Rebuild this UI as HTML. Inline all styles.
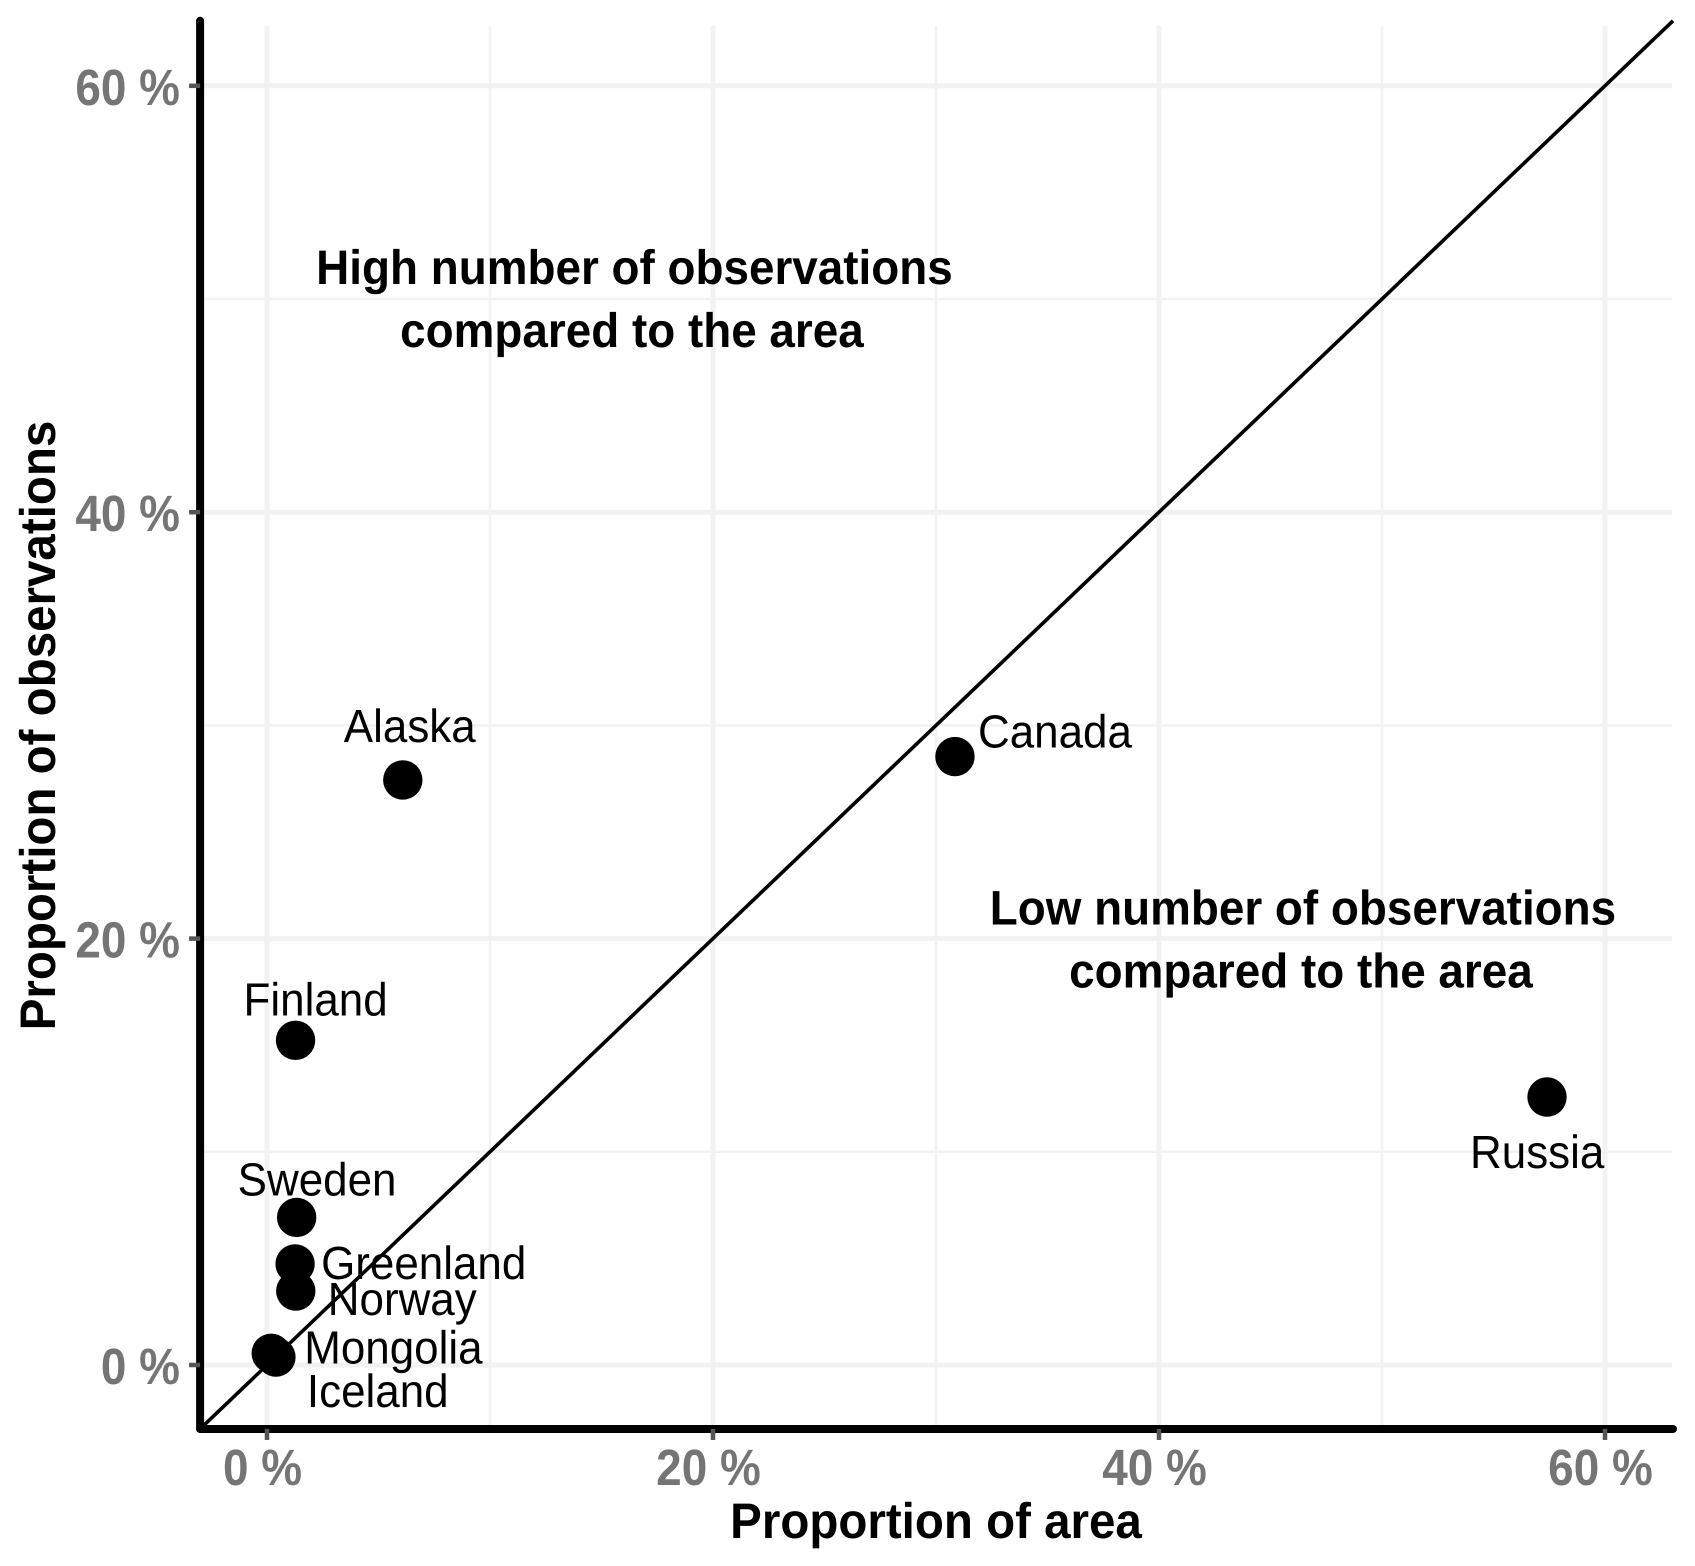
<!DOCTYPE html>
<html lang="en">
<head>
<meta charset="utf-8">
<title>Proportion of observations vs proportion of area</title>
<style>
  html, body { margin: 0; padding: 0; background: #fff; }
  svg { display: block; font-family: "Liberation Sans", sans-serif; text-rendering: geometricPrecision; }
</style>
</head>
<body>
<svg id="chart" xmlns="http://www.w3.org/2000/svg" width="1695" height="1566" viewBox="0 0 1695 1566"></svg>
<script>
const countries = ["Alaska", "Canada", "Finland", "Russia", "Sweden", "Greenland", "Norway", "Mongolia", "Iceland"];
const areaShare = [6.09, 30.85, 1.28, 57.4, 1.33, 1.26, 1.29, 0.19, 0.4];
const observationShare = [27.44, 28.54, 15.23, 12.57, 6.92, 4.74, 3.47, 0.55, 0.37];
const majorTicks = [0, 20, 40, 60];
const minorTicks = [10, 30, 50];
const tickLabels = ["0 %", "20 %", "40 %", "60 %"];
const axisMin = -3;
const axisMax = 63.05;

const NS = "http://www.w3.org/2000/svg";
const svg = document.getElementById("chart");
const sx = v => 267 + v * 22.3;
const sy = v => 1365 - v * 21.32;
const PL = sx(axisMin), PR = sx(axisMax), PT = sy(axisMax), PB = sy(axisMin);

const labelOffsets = {
  Alaska: [-59, -38], Canada: [23, -9], Finland: [-52, -25], Russia: [-77, 71],
  Sweden: [-59, -22], Greenland: [26, 15], Norway: [32, 24], Mongolia: [33, 10], Iceland: [31, 50]
};

function make(tag, attrs, parent) {
  const el = document.createElementNS(NS, tag);
  for (const k in attrs) el.setAttribute(k, attrs[k]);
  (parent || svg).appendChild(el);
  return el;
}
function text(str, x, y, size, weight, fill, anchor, sxScale, rotate) {
  const rot = rotate ? " rotate(" + rotate + ")" : "";
  const el = make("text", {
    transform: "translate(" + x + "," + y + ")" + rot + " scale(" + sxScale + ",1)",
    "font-size": size, "font-weight": weight, fill: fill, "text-anchor": anchor
  });
  el.textContent = str;
  return el;
}

minorTicks.forEach(t => {
  const gx = make("line", { x1: sx(t), x2: sx(t), y1: PT + 5, y2: PB, stroke: "#f2f2f2", "stroke-width": 2.5 });
  
  
  const gy = make("line", { x1: PL, x2: PR - 1, y1: sy(t), y2: sy(t), stroke: "#f2f2f2", "stroke-width": 2.5 });
  
  
});
majorTicks.forEach(t => {
  const gx = make("line", { x1: sx(t), x2: sx(t), y1: PT + 5, y2: PB, stroke: "#f2f2f2", "stroke-width": 5 });
  
  
  const gy = make("line", { x1: PL, x2: PR - 1, y1: sy(t), y2: sy(t), stroke: "#f2f2f2", "stroke-width": 5 });
  
  
});

const ref = make("line", { x1: sx(axisMin), y1: sy(axisMin), x2: sx(axisMax), y2: sy(axisMax), stroke: "#000", "stroke-width": 3.6 });



countries.forEach((c, i) => {
  const pt = make("circle", { cx: sx(areaShare[i]), cy: sy(observationShare[i]), r: 19.7, fill: "#000" });
  
  
});
countries.forEach((c, i) => {
  const off = labelOffsets[c];
  const lb = text(c, sx(areaShare[i]) + off[0], sy(observationShare[i]) + off[1], 46.5, "normal", "#000", "start", 0.945);
  
  
});

const yAxis = make("line", { x1: PL, x2: PL, y1: PT, y2: PB, stroke: "#000", "stroke-width": 8, "stroke-linecap": "round" });


const xAxis = make("line", { x1: PL, x2: PR, y1: PB, y2: PB, stroke: "#000", "stroke-width": 8, "stroke-linecap": "round" });



majorTicks.forEach((t, i) => {
  const tx = make("line", { x1: sx(t), x2: sx(t), y1: PB, y2: PB + 11, stroke: "#555", "stroke-width": 4.5 });
  
  
  const ty = make("line", { x1: PL - 11, x2: PL, y1: sy(t), y2: sy(t), stroke: "#555", "stroke-width": 4.5 });
  
  
  const lx = text(tickLabels[i], sx(t) - 4.5, 1485, 51, "bold", "#757575", "middle", 0.9);
  
  
  const ly = text(tickLabels[i], 180, sy(t) + 19, 51, "bold", "#757575", "end", 0.9);
  
  
});

const xt = text("Proportion of area", 936, 1538, 50, "bold", "#000", "middle", 0.95);


const yt = text("Proportion of observations", 55, 725.5, 50, "bold", "#000", "middle", 0.95, -90);



const a1 = text("High number of observations", sx(16.5) - 0.5, sy(50.7), 48.5, "bold", "#000", "middle", 0.945);


const a2 = text("compared to the area", sx(16.5) - 3, sy(47.75), 48.5, "bold", "#000", "middle", 0.945);


const a3 = text("Low number of observations", sx(46.5) - 1, sy(20.65), 48.5, "bold", "#000", "middle", 0.945);


const a4 = text("compared to the area", sx(46.5) - 3, sy(17.7), 48.5, "bold", "#000", "middle", 0.945);


</script>
</body>
</html>
